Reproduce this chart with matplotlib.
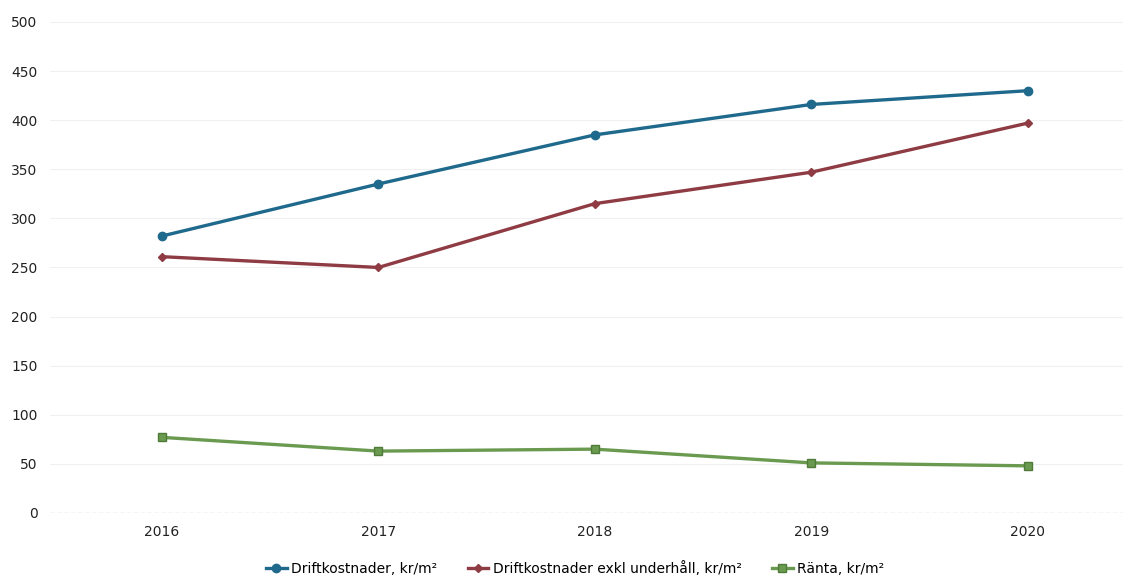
import matplotlib.pyplot as plt
import numpy as np

years = [2016, 2017, 2018, 2019, 2020]
drift = [282, 335, 385, 416, 430]
drift_exkl = [261, 250, 315, 347, 397]
ranta = [77, 63, 65, 51, 48]

labels = ['Driftkostnader, kr/m²', 'Driftkostnader exkl underhåll, kr/m²', 'Ränta, kr/m²']

plt.rcParams.update({'font.size': 10, 'font.family': 'DejaVu Sans'})

fig = plt.figure(figsize=(11.23, 5.78), dpi=100)
ax = fig.add_axes([0.0445, 0.1125, 0.9555, 0.8495])

x = np.arange(len(years))
ax.plot(x, drift, color='#1f6a8c', lw=2.4, marker='o', ms=6, label=labels[0])
ax.plot(x, drift_exkl, color='#8e3b43', lw=2.4, marker='D', ms=4.5, label=labels[1])
ax.plot(x, ranta, color='#6a9a4f', lw=2.4, marker='s', ms=6, mec='#4f7a3a', label=labels[2])

ax.set_xlim(-0.517, 4.44)
ax.set_ylim(0, 500)
ax.set_yticks(np.arange(0, 501, 50))
ax.set_xticks(x)
ax.set_xticklabels([str(y) for y in years])
ax.grid(axis='y', color='#f0f0f0', lw=0.8)
ax.axhline(0, color='#c8d4e6', lw=1, ls=(0, (3, 2)))
for s in ax.spines.values():
    s.set_visible(False)
ax.tick_params(length=0, labelsize=10, colors='#222222')
ax.tick_params(axis='x', pad=9)
ax.tick_params(axis='y', pad=9)

fig.legend(loc='center', bbox_to_anchor=(0.512, 0.016), ncol=3, frameon=False,
           fontsize=10, handlelength=1.5, columnspacing=2.2, handletextpad=0.3)

plt.savefig('out.png', dpi=100)
